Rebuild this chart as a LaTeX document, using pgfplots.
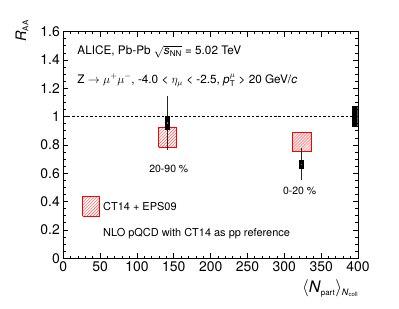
\documentclass[border=0pt]{standalone}
\usepackage{pgfplots}
\pgfplotsset{compat=1.18}
\usepackage{fontspec}
\setmainfont{TeX Gyre Heros}
\usetikzlibrary{patterns}
\newcommand{\sub}[1]{\mbox{\fontsize{8}{8}\selectfont #1}}
\begin{document}
\begin{tikzpicture}
\useasboundingbox (-63.3bp,-50.7bp) rectangle (335.7bp,258.3bp);
\begin{axis}[
  at={(0,0)}, anchor=south west, scale only axis,
  width=294.7bp, height=226.6bp,
  xmin=0, xmax=400, ymin=0, ymax=1.6,
  xtick={0,50,100,150,200,250,300,350,400},
  ytick={0,0.2,0.4,0.6,0.8,1,1.2,1.4,1.6},
  minor x tick num=4, minor y tick num=3,
  tick align=inside, major tick length=5bp, minor tick length=2.5bp,
  tick style={black, line width=0.8pt},
  axis line style={line width=1pt},
  tick label style={font=\fontsize{14}{14}\selectfont},
  /pgf/number format/assume math mode=true,
  clip=false,
  ylabel={\textit{R}$_{\sub{AA}}$},
  ylabel style={at={(axis description cs:-0.14,1.052)}, anchor=east, inner sep=0pt, font=\fontsize{14.5}{14}\selectfont},
  xlabel={$\langle$\textit{N}$_{\sub{part}}\rangle_{\mbox{\fontsize{9}{9}\selectfont\textit{N}\textsubscript{coll}}}$},
  xlabel style={at={(axis description cs:1.003,-0.095)}, anchor=north east, inner sep=0pt, font=\fontsize{16}{16}\selectfont},
]
% CT14 + EPS09 boxes
\addplot[draw=red, line width=0.8pt, pattern=north east lines, pattern color=red!70, line join=miter]
  coordinates {(129.5,0.784) (153.9,0.784) (153.9,0.925) (129.5,0.925) (129.5,0.784)};
\addplot[draw=red, line width=0.8pt, pattern=north east lines, pattern color=red!70, line join=miter]
  coordinates {(311.3,0.753) (336.2,0.753) (336.2,0.890) (311.3,0.890) (311.3,0.753)};
% legend box
\addplot[draw=red, line width=0.8pt, pattern=north east lines, pattern color=red!70, line join=miter]
  coordinates {(26.3,0.299) (48.9,0.299) (48.9,0.435) (26.3,0.435) (26.3,0.299)};
% dashed line at unity
\addplot[black, line width=1pt, dash pattern=on 2.5pt off 2pt] coordinates {(0,1) (392.5,1)};
% global uncertainty
\addplot[draw=black, fill=black] coordinates {(392.5,0.934) (399.6,0.934) (399.6,1.071) (392.5,1.071) (392.5,0.934)};
% statistical error bars
\addplot[only marks, black, mark=none, error bars/.cd, y dir=both, y explicit,
  error bar style={line width=1.2pt, black!85}, error mark=none]
  coordinates {(141,0.958) +- (0,0.19) (323,0.666) +- (0,0.11)};
% systematic boxes
\addplot[draw=black, fill=black, line width=0.6pt] coordinates {(138.2,0.914) (143.8,0.914) (143.8,1.002) (138.2,1.002) (138.2,0.914)};
\addplot[draw=black, fill=black, line width=0.6pt] coordinates {(320.2,0.636) (325.8,0.636) (325.8,0.694) (320.2,0.694) (320.2,0.636)};
% markers
\addplot[only marks, mark=square*, mark size=1.2bp, mark options={fill=black!50, draw=black}] coordinates {(141,0.958) (323,0.666)};
% texts
\node[anchor=base west, inner sep=0pt, font=\fontsize{11.8}{12}\selectfont] at (axis cs:19,1.44)
  {ALICE, Pb-Pb $\sqrt{\mbox{\textit{s}}_{\sub{NN}}}$ = 5.02 TeV};
\node[anchor=base west, inner sep=0pt, font=\fontsize{11.8}{12}\selectfont] at (axis cs:19,1.236)
  {Z $\rightarrow \mu^{+}\mu^{-}$, -4.0 < $\eta_{\mu}$ < -2.5, \textit{p}$^{\mu}_{\sub{T}}$ > 20 GeV/\textit{c}};
\node[anchor=base west, inner sep=0pt, font=\fontsize{10.5}{11}\selectfont] at (axis cs:116.5,0.605) {20-90 \%};
\node[anchor=base west, inner sep=0pt, font=\fontsize{10.5}{11}\selectfont] at (axis cs:298,0.452) {0-20 \%};
\node[anchor=base west, inner sep=0pt, font=\fontsize{11}{12}\selectfont] at (axis cs:53.9,0.336) {CT14 + EPS09};
\node[anchor=base west, inner sep=0pt, font=\fontsize{11}{12}\selectfont] at (axis cs:53.9,0.157) {NLO pQCD with CT14 as pp reference};
\end{axis}
\end{tikzpicture}
\end{document}
